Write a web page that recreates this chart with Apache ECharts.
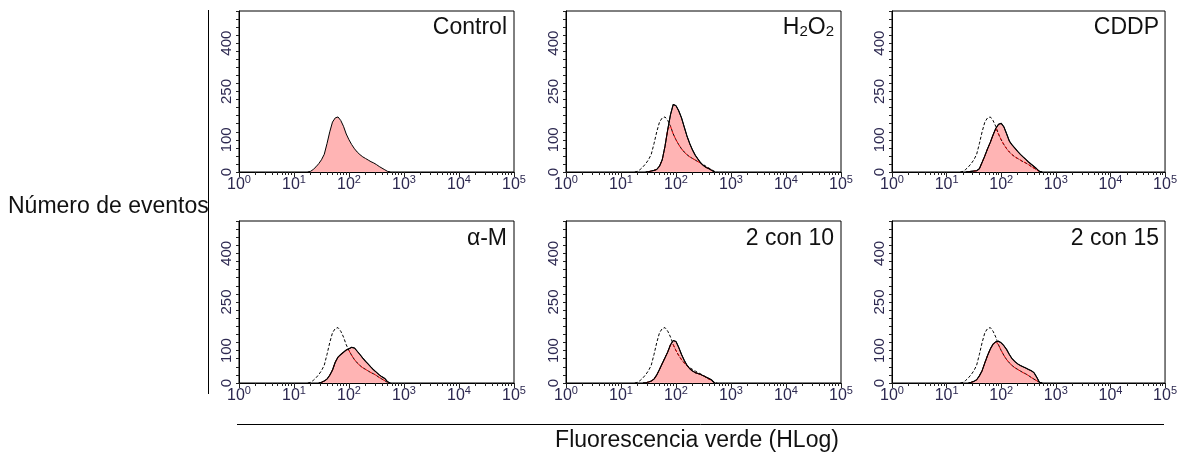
<!DOCTYPE html>
<html><head><meta charset="utf-8">
<script src="https://cdn.jsdelivr.net/npm/echarts@6/dist/echarts.min.js"></script>
<style>html,body{margin:0;padding:0;background:#fff}#c{width:1180px;height:457px}</style>
</head><body><div id="c"></div>
<script>
// Fluorescence channel values (HLog) — bin centres
const fluor = [15.8, 17.8, 20.0, 22.4, 25.1, 28.2, 31.6, 35.5, 39.8, 44.7, 50.1, 56.2, 63.1, 70.8, 79.4, 89.1, 100, 112, 126, 141, 158, 178, 200, 224, 251, 282, 316, 355, 398, 447, 501, 562, 631, 708, 794];
// Event counts per bin
const control = [0, 0, 2, 8, 16, 26, 38, 55, 88, 125, 155, 168, 171, 160, 142, 118, 100, 85, 72, 62, 54, 47, 42, 37, 32, 28, 23, 17, 12, 7, 2, 0, 0, 0, 0];
const h2o2    = [0, 0, 0, 0, 0, 0, 1, 3, 5, 8, 18, 38, 80, 132, 178, 210, 206, 190, 168, 140, 112, 88, 68, 52, 40, 28, 20, 14, 10, 5, 0, 0, 0, 0, 0];
const cddp    = [0, 0, 0, 0, 1, 2, 3, 4, 10, 30, 50, 72, 92, 115, 135, 148, 151, 140, 118, 96, 84, 74, 64, 55, 47, 39, 31, 24, 17, 10, 2, 0, 0, 0, 0];
const alphaM  = [0, 0, 0, 0, 0, 0, 2, 6, 12, 24, 40, 64, 80, 88, 95, 102, 106, 110, 108, 98, 88, 77, 67, 58, 49, 40, 33, 25, 19, 14, 4, 0, 0, 0, 0];
const con10   = [0, 0, 0, 0, 0, 1, 3, 6, 12, 25, 42, 60, 78, 96, 118, 131, 128, 110, 88, 70, 55, 44, 37, 32, 29, 26, 22, 18, 14, 9, 0, 0, 0, 0, 0];
const con15   = [0, 0, 0, 0, 0, 2, 5, 10, 22, 38, 62, 85, 105, 120, 127, 129, 124, 115, 103, 88, 75, 66, 59, 54, 50, 46, 42, 38, 32, 18, 2, 0, 0, 0, 0];

const panelNames = ['Control', 'H{s|2}O{s|2}', 'CDDP', 'α-M', '2 con 10', '2 con 15'];
const yLabelValues = [0, 100, 250, 400];
const xDecades = [1, 10, 100, 1000, 10000, 100000];
const yAxisTitle = 'Número de eventos';
const xAxisTitle = 'Fluorescencia verde (HLog)';

const samples = [control, h2o2, cddp, alphaM, con10, con15];

// tick positions (axis structure)
const xTicks = [];
for (let d = 0; d < 5; d++) for (let k = 1; k < 10; k++) xTicks.push(k * Math.pow(10, d));
xTicks.push(100000);
const yTicks = [];
for (let v = 0; v <= 500; v += 25) yTicks.push(v);

const cols = [{left: 239, width: 275}, {left: 566, width: 275}, {left: 892, width: 274}];
const rows = [{top: 11, height: 161}, {top: 221, height: 162}];

function trim(arr) {
  return arr.map((v, i) => (v === 0 && !(arr[i - 1] > 0) && !(arr[i + 1] > 0)) ? null : v);
}
function pairs(arr) { return trim(arr).map((v, i) => [fluor[i], v]); }

const grids = [], xAxes = [], yAxes = [], series = [], titles = [];
const FONT = 'Liberation Sans, Arial, sans-serif';
const labelColor = '#2c2850';

for (let p = 0; p < 6; p++) {
  const c = cols[p % 3], r = rows[Math.floor(p / 3)];
  grids.push({left: c.left, top: r.top, width: c.width, height: r.height, show: true,
    borderColor: '#000', borderWidth: 1, backgroundColor: 'transparent'});
  xAxes.push({type: 'log', logBase: 10, gridIndex: p, min: 1, max: 100000, position: 'bottom', z: 10,
    axisLine: {show: true, lineStyle: {color: '#000', width: 1}},
    axisTick: {show: true, length: 3, customValues: xTicks, lineStyle: {color: '#222'}},
    splitLine: {show: false}, minorTick: {show: false},
    axisLabel: {show: true, customValues: xDecades, margin: 5, fontSize: 16, color: labelColor, fontFamily: FONT,
      formatter: v => '{b|10}{s|' + Math.round(Math.log10(v)) + '}',
      rich: {b: {fontSize: 16, lineHeight: 16, color: labelColor, fontFamily: FONT, verticalAlign: 'bottom'},
             s: {fontSize: 11, lineHeight: 11, color: labelColor, fontFamily: FONT, verticalAlign: 'bottom', padding: [0, 0, 8, 0]}}}
  });
  yAxes.push({type: 'value', gridIndex: p, min: 0, max: 500,
    axisLine: {show: true, lineStyle: {color: '#000', width: 1}},
    axisTick: {show: true, length: 3, customValues: yTicks, lineStyle: {color: '#222'}},
    splitLine: {show: false},
    axisLabel: {show: true, customValues: yLabelValues, rotate: 90, margin: 5, fontSize: 15,
      color: labelColor, fontFamily: FONT}
  });
  titles.push({text: panelNames[p], right: 1180 - (c.left + c.width) + 7, top: r.top + (p < 3 ? 5 : 6), padding: 0,
    textStyle: {fontSize: 23, fontWeight: 'normal', color: '#111', fontFamily: FONT,
      rich: {s: {fontSize: 15, color: '#111', fontFamily: FONT, verticalAlign: 'bottom'}}}});

  const samp = samples[p];
  series.push({type: 'line', xAxisIndex: p, yAxisIndex: p, data: pairs(samp), symbol: 'none',
    silent: true, lineStyle: {color: '#000', width: 1}, areaStyle: {color: '#ffb4b4', opacity: 1}, z: 2});
  if (p > 0) {
    series.push({type: 'line', xAxisIndex: p, yAxisIndex: p, data: pairs(control), symbol: 'none',
      silent: true, lineStyle: {color: '#000', width: 1, type: [3, 2]}, z: 3});
    const overlap = control.map((v, i) => (v > 0 && samp[i] > 0) ? Math.min(v, samp[i]) : null);
    series.push({type: 'line', xAxisIndex: p, yAxisIndex: p, data: overlap.map((v, i) => [fluor[i], v]),
      symbol: 'none', silent: true, connectNulls: false, lineStyle: {color: '#e00000', width: 1, type: [3, 2]}, z: 4});
    series.push({type: 'line', xAxisIndex: p, yAxisIndex: p, data: pairs(samp), symbol: 'none',
      silent: true, lineStyle: {color: '#000', width: 1.1}, z: 5});
  }
}
// major decade ticks (longer)
for (let p = 0; p < 6; p++) {
  xAxes.push({type: 'log', logBase: 10, gridIndex: p, min: 1, max: 100000, position: 'bottom', z: 10,
    axisLine: {show: false}, axisLabel: {show: false}, splitLine: {show: false},
    axisTick: {show: true, length: 5, customValues: xDecades, lineStyle: {color: '#222'}}});
}

const chart = echarts.init(document.getElementById('c'), null, {renderer: 'canvas'});
chart.setOption({
  animation: false,
  backgroundColor: '#fff',
  title: titles,
  grid: grids, xAxis: xAxes, yAxis: yAxes, series: series,
  graphic: [
    {type: 'line', shape: {x1: 208.5, y1: 10, x2: 208.5, y2: 394}, style: {stroke: '#000', lineWidth: 1}},
    {type: 'line', shape: {x1: 237, y1: 424.5, x2: 1164, y2: 424.5}, style: {stroke: '#000', lineWidth: 1}},
    {type: 'text', left: 8, top: 195, style: {text: yAxisTitle, fontSize: 23, fill: '#111', fontFamily: FONT}},
    {type: 'text', x: 697, y: 441, style: {text: xAxisTitle, fontSize: 23, fill: '#111', fontFamily: FONT,
      textAlign: 'center', textVerticalAlign: 'middle'}}
  ]
});
</script></body></html>
